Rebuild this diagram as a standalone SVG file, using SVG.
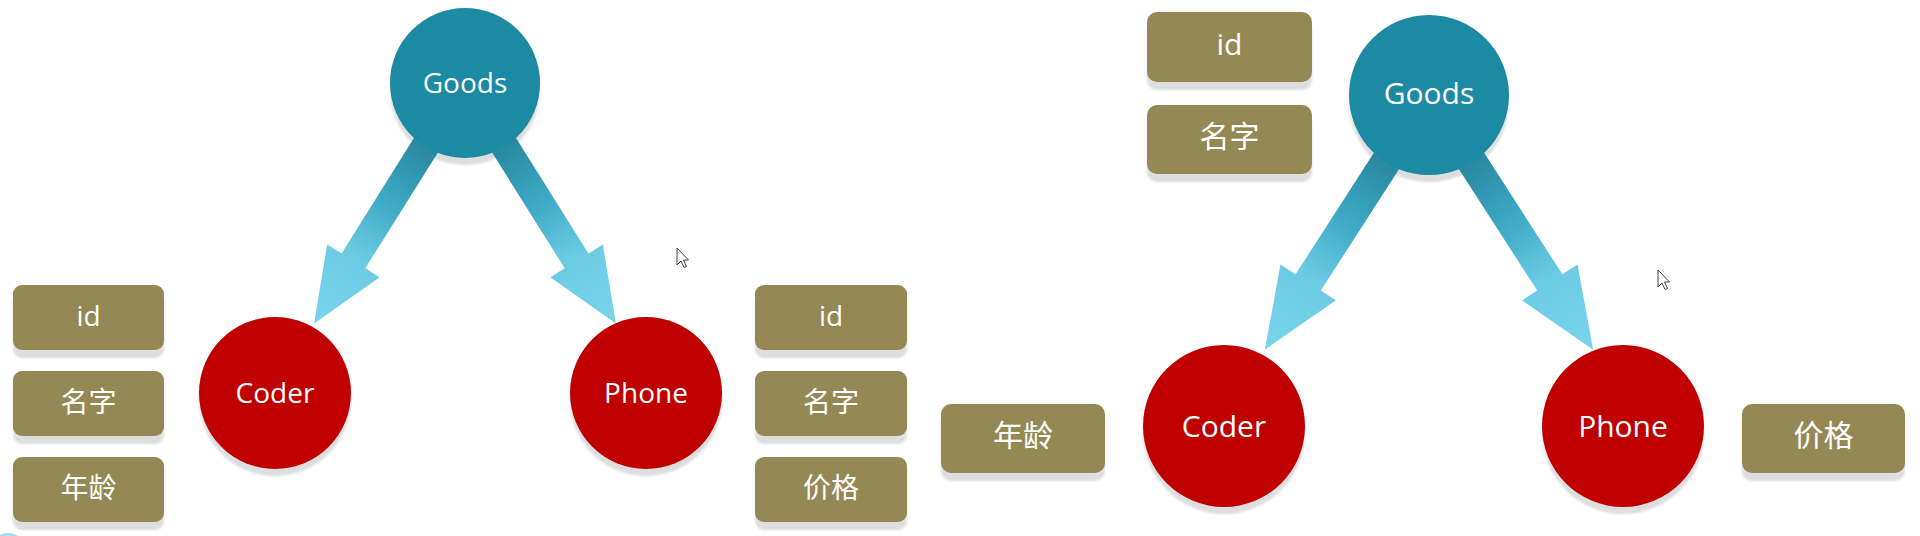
<svg xmlns="http://www.w3.org/2000/svg" width="1920" height="536" viewBox="0 0 1920 536">
<defs>
<linearGradient id="arrowGrad" x1="0" y1="0" x2="0" y2="1">
<stop offset="0" stop-color="#1f7f99"/>
<stop offset="0.27" stop-color="#2a89a3"/>
<stop offset="0.5" stop-color="#3eaac5"/>
<stop offset="0.72" stop-color="#6ccbe4"/>
<stop offset="1" stop-color="#78d4eb"/>
</linearGradient>
<filter id="soft" x="-20%" y="-20%" width="140%" height="140%"><feGaussianBlur stdDeviation="1.2"/></filter>
</defs>
<style>
.goods{fill:#1b8aa2}
.red{fill:#c00000}
.shadow{fill:#dedede;filter:url(#soft)}
.box{fill:#948954}
.arrow{fill:url(#arrowGrad)}
.t1{font-family:"Open Sans","Noto Sans CJK SC",sans-serif;font-size:28px;fill:#ffffff;text-anchor:middle}
.t2{font-family:"Open Sans","Noto Sans CJK SC",sans-serif;font-size:30px;fill:#ffffff;text-anchor:middle}
.cursor{fill:#ffffff;stroke:#444444;stroke-width:1;stroke-linejoin:round}
</style>
<rect width="1920" height="536" fill="#ffffff"/>
<circle cx="8" cy="550" r="17" fill="#a6dcef"/>

<!-- shadows of Goods circles (behind arrows) -->
<circle class="shadow" cx="465" cy="90" r="75"/>
<circle class="shadow" cx="1429" cy="102" r="80"/>

<g id="connectors">
<path class="arrow" transform="translate(465,83) rotate(32.1)" d="M-14,0 V210 H-31 L0,284 L31,210 H14 V0 Z"/>
<path class="arrow" transform="translate(465,83) rotate(-32.1)" d="M-14,0 V210 H-31 L0,284 L31,210 H14 V0 Z"/>
<path class="arrow" transform="translate(1429,95) rotate(32.8)" d="M-15,0 V223 H-33 L0,303 L33,223 H15 V0 Z"/>
<path class="arrow" transform="translate(1429,95) rotate(-32.8)" d="M-15,0 V223 H-33 L0,303 L33,223 H15 V0 Z"/>
</g>

<!-- Left diagram -->
<g id="goods-left">
<circle class="goods" cx="465" cy="83" r="75"/>
<text class="t1" x="465" y="93">Goods</text>
</g>
<g id="coder-left">
<circle class="shadow" cx="275" cy="400" r="76"/>
<circle class="red" cx="275" cy="393" r="76"/>
<text class="t1" x="275" y="403">Coder</text>
</g>
<g id="phone-left">
<circle class="shadow" cx="646" cy="400" r="76"/>
<circle class="red" cx="646" cy="393" r="76"/>
<text class="t1" x="646" y="403">Phone</text>
</g>
<g id="coder-left-id">
<rect class="shadow" x="13" y="293" width="151" height="65" rx="9"/>
<rect class="box" x="13" y="285" width="151" height="65" rx="9"/>
<text class="t1" x="88.5" y="326">id</text>
</g>
<g id="coder-left-name">
<rect class="shadow" x="13" y="379" width="151" height="65" rx="9"/>
<rect class="box" x="13" y="371" width="151" height="65" rx="9"/>
<text class="t1" x="88.5" y="412">名字</text>
</g>
<g id="coder-left-age">
<rect class="shadow" x="13" y="465" width="151" height="65" rx="9"/>
<rect class="box" x="13" y="457" width="151" height="65" rx="9"/>
<text class="t1" x="88.5" y="498">年龄</text>
</g>
<g id="phone-left-id">
<rect class="shadow" x="755" y="293" width="152" height="65" rx="9"/>
<rect class="box" x="755" y="285" width="152" height="65" rx="9"/>
<text class="t1" x="831" y="326">id</text>
</g>
<g id="phone-left-name">
<rect class="shadow" x="755" y="379" width="152" height="65" rx="9"/>
<rect class="box" x="755" y="371" width="152" height="65" rx="9"/>
<text class="t1" x="831" y="412">名字</text>
</g>
<g id="phone-left-price">
<rect class="shadow" x="755" y="465" width="152" height="65" rx="9"/>
<rect class="box" x="755" y="457" width="152" height="65" rx="9"/>
<text class="t1" x="831" y="498">价格</text>
</g>

<!-- Right diagram -->
<g id="goods-right">
<circle class="goods" cx="1429" cy="95" r="80"/>
<text class="t2" x="1429" y="104">Goods</text>
</g>
<g id="goods-right-id">
<rect class="shadow" x="1147" y="20" width="165" height="70" rx="10"/>
<rect class="box" x="1147" y="12" width="165" height="70" rx="10"/>
<text class="t2" x="1229.5" y="55">id</text>
</g>
<g id="goods-right-name">
<rect class="shadow" x="1147" y="113" width="165" height="69" rx="10"/>
<rect class="box" x="1147" y="105" width="165" height="69" rx="10"/>
<text class="t2" x="1229.5" y="147">名字</text>
</g>
<g id="coder-right">
<circle class="shadow" cx="1224" cy="433" r="81"/>
<circle class="red" cx="1224" cy="426" r="81"/>
<text class="t2" x="1224" y="437">Coder</text>
</g>
<g id="phone-right">
<circle class="shadow" cx="1623" cy="433" r="81"/>
<circle class="red" cx="1623" cy="426" r="81"/>
<text class="t2" x="1623" y="437">Phone</text>
</g>
<g id="coder-right-age">
<rect class="shadow" x="941" y="412" width="164" height="69" rx="10"/>
<rect class="box" x="941" y="404" width="164" height="69" rx="10"/>
<text class="t2" x="1023" y="446">年龄</text>
</g>
<g id="phone-right-price">
<rect class="shadow" x="1742" y="412" width="163" height="69" rx="10"/>
<rect class="box" x="1742" y="404" width="163" height="69" rx="10"/>
<text class="t2" x="1823.5" y="446">价格</text>
</g>

<!-- mouse pointers -->
<path class="cursor" transform="translate(677,248)" d="M0,0 L0,17 L4,13 L7,19.5 L9.5,18.5 L6.5,12 L11.5,12 Z"/>
<path class="cursor" transform="translate(1658,270)" d="M0,0 L0,17 L4,13 L7,19.5 L9.5,18.5 L6.5,12 L11.5,12 Z"/>
</svg>
